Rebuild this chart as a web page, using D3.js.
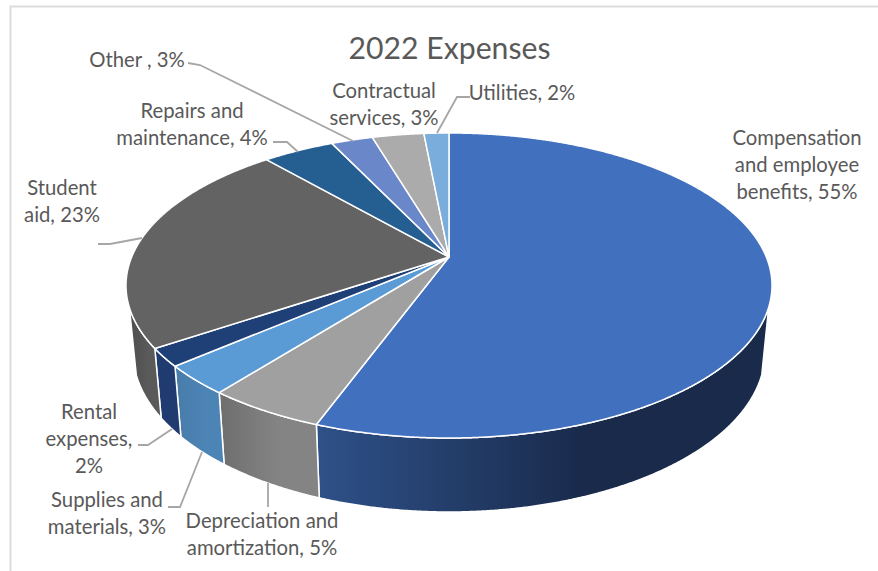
<!DOCTYPE html>
<html>
<head>
<meta charset="utf-8">
<script src="https://cdn.jsdelivr.net/npm/d3@7"></script>
<style>
    html, body { margin: 0; padding: 0; background: #fff; }
    svg { display: block; }
    text { font-family: Lato, "Open Sans", sans-serif; fill: #595959; }
</style>
</head>
<body>
<svg id="chart" width="878" height="571"></svg>
<script>
const title = "2022 Expenses";
const categories = ["Compensation and employee benefits", "Depreciation and amortization", "Supplies and materials", "Rental expenses", "Student aid", "Repairs and maintenance", "Other ", "Contractual services", "Utilities"];
const shares = [55.6, 5.0, 3.1, 1.9, 23.0, 4.3, 2.5, 3.1, 1.5];
const printedPercents = [55, 5, 3, 2, 23, 4, 3, 3, 2];
const topColors = ["#4170bf", "#a0a0a0", "#5b9bd5", "#1f3f77", "#636363", "#255e91", "#6a87c9", "#ababab", "#7aacdc"];
const wallLeft = ["#2e5189", "#6e6e6e", "#487ca9", "#1f3b70", "#4e4e4e", "#1b4265", "#4a5f8c", "#787878", "#5578a0"];
const wallRight = ["#192a4b", "#848484", "#4c84b6", "#1f3b70", "#5a5a5a", "#1b4265", "#4a5f8c", "#787878", "#5578a0"];

// label text broken the way the picture breaks it, last line gets the percent
const labelLines = [
    ["Compensation", "and employee", "benefits,"],
    ["Depreciation and", "amortization,"],
    ["Supplies and", "materials,"],
    ["Rental", "expenses,", ""],
    ["Student", "aid,"],
    ["Repairs and", "maintenance,"],
    ["Other ,"],
    ["Contractual", "services,"],
    ["Utilities,"]
];
const labelX = [797, 262, 107, 89, 62, 192, 137, 384, 522];
const labelY = [145, 528, 507, 419, 195, 118, 67, 98, 100];
const leaders = [
    null,
    [[268, 483], [268, 507]],
    [[168, 507], [180, 507], [202, 452]],
    [[138, 445], [148, 445], [172, 429]],
    [[98, 244], [110, 244], [142, 238]],
    [[273, 142], [287, 142], [298, 152]],
    [[188, 63], [200, 65], [353, 141]],
    null,
    [[470, 97], [457, 97], [437, 133]]
];

const width = 878, height = 571;
const svg = d3.select("#chart");
const defs = svg.append("defs");

// top disc and bottom disc of the drum, unit coordinates to pixels
const xTop = d3.scaleLinear().domain([-1, 1]).range([126, 772]);
const yTop = d3.scaleLinear().domain([-1, 1]).range([133, 438]);
const xBottom = d3.scaleLinear().domain([-1, 1]).range([133, 765]);
const yBottom = d3.scaleLinear().domain([-1, 1]).range([192, 512]);

// perspective moves the pie centre up inside the ellipse
const tilt = -0.187;
const rimCut = 0.141;
function project(angle) {
    const u = Math.sin(angle), v = -Math.cos(angle);
    const d = 1 + tilt * v;
    return [u * Math.sqrt(1 - tilt * tilt) / d, (v + tilt) / d];
}

const arcs = d3.pie().sort(null).value(d => d)(shares);
const line = d3.line();
const step = Math.PI / 720;

arcs.forEach((a, i) => {
    const rim = d3.range(a.startAngle, a.endAngle, step).concat(a.endAngle).map(project);
    a.rim = rim;
    const front = rim.filter(p => p[1] >= rimCut);
    if (front.length < 2) return;

    const pts = front.map(p => [xTop(p[0]), yTop(p[1])])
        .concat(front.slice().reverse().map(p => [xBottom(p[0]), yBottom(p[1])]));
    const xs = d3.extent(pts, p => p[0]);
    const grad = defs.append("linearGradient")
        .attr("id", "wall" + i)
        .attr("gradientUnits", "userSpaceOnUse")
        .attr("x1", xs[0]).attr("x2", xs[0] + (xs[1] - xs[0]) * 0.6)
        .attr("y1", 0).attr("y2", 0);
    grad.append("stop").attr("offset", 0).attr("stop-color", wallLeft[i]);
    grad.append("stop").attr("offset", 1).attr("stop-color", wallRight[i]);

    svg.append("path")
        .attr("d", line(pts) + "Z")
        .attr("fill", `url(#wall${i})`)
        .attr("stroke", "#fff")
        .attr("stroke-width", 1.5)
        .attr("stroke-linejoin", "round");
});

const centre = [xTop(0), yTop(tilt)];
svg.selectAll("path.slice")
    .data(arcs)
    .enter()
    .append("path")
    .attr("class", "slice")
    .attr("d", a => line([centre].concat(a.rim.map(p => [xTop(p[0]), yTop(p[1])]))) + "Z")
    .attr("fill", (a, i) => topColors[i])
    .attr("stroke", "#fff")
    .attr("stroke-width", 1.5)
    .attr("stroke-linejoin", "round");

// frame of the pasted chart, only top and left survive
svg.append("path")
    .attr("d", line([[width, 6.5], [10.5, 6.5], [10.5, height]]))
    .attr("fill", "none")
    .attr("stroke", "#dcdcdc")
    .attr("stroke-width", 2);

svg.selectAll("path.leader")
    .data(leaders.filter(d => d))
    .enter()
    .append("path")
    .attr("class", "leader")
    .attr("d", d => line(d))
    .attr("fill", "none")
    .attr("stroke", "#a6a6a6")
    .attr("stroke-width", 1.8);

svg.append("text")
    .attr("x", 449.5)
    .attr("y", 59)
    .attr("text-anchor", "middle")
    .attr("font-size", 30.2)
    .text(title);

categories.forEach((c, i) => {
    const pct = printedPercents[i] + "%";
    const t = svg.append("text")
        .attr("class", "label")
        .attr("data-category", c)
        .attr("text-anchor", "middle")
        .attr("font-size", 20.3);
    labelLines[i].forEach((l, j, all) => {
        t.append("tspan")
            .attr("x", labelX[i])
            .attr("y", labelY[i] + j * 26.8)
            .text(j === all.length - 1 ? (l ? l + " " + pct : pct) : l);
    });
});
</script>
</body>
</html>
